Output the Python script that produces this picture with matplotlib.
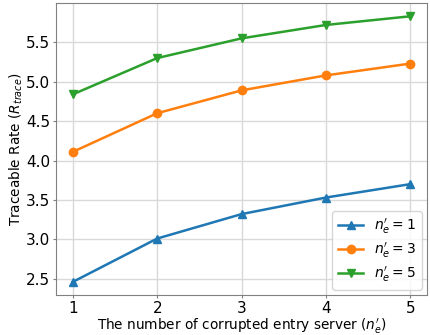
import matplotlib
matplotlib.use("Agg")
import matplotlib.pyplot as plt

servers = [1, 2, 3, 4, 5]
rate_ne1 = [2.46, 3.01, 3.32, 3.53, 3.70]
rate_ne3 = [4.11, 4.60, 4.89, 5.08, 5.23]
rate_ne5 = [4.84, 5.30, 5.55, 5.72, 5.83]
labels = [r"$n_e'=1$", r"$n_e'=3$", r"$n_e'=5$"]

fig, ax = plt.subplots(figsize=(4.31, 3.35), dpi=100)
ax.plot(servers, rate_ne1, marker="^", color="#1f77b4", lw=1.8, ms=6, label=labels[0])
ax.plot(servers, rate_ne3, marker="o", color="#ff7f0e", lw=1.8, ms=6, label=labels[1])
ax.plot(servers, rate_ne5, marker="v", color="#2ca02c", lw=1.8, ms=6, label=labels[2])

ax.set_xticks(servers)
ax.set_yticks([2.5, 3.0, 3.5, 4.0, 4.5, 5.0, 5.5])
ax.grid(True, color="#d9d9d9", lw=1.0)
ax.set_axisbelow(True)
ax.tick_params(labelsize=11, length=2.5, pad=1.5, color="#808080")
for s in ax.spines.values():
    s.set_color("#808080")
ax.set_xlabel(r"The number of corrupted entry server ($n_e'$)", fontsize=9.8, labelpad=1)
ax.set_ylabel(r"Traceable Rate ($R_{trace}$)", fontsize=9.8, labelpad=1)
ax.legend(loc="lower right", fontsize=10, handlelength=1.8, labelspacing=0.35,
          borderaxespad=0.4)
fig.subplots_adjust(left=0.13, right=0.991, top=0.991, bottom=0.119)
fig.savefig("out.png", dpi=100)
